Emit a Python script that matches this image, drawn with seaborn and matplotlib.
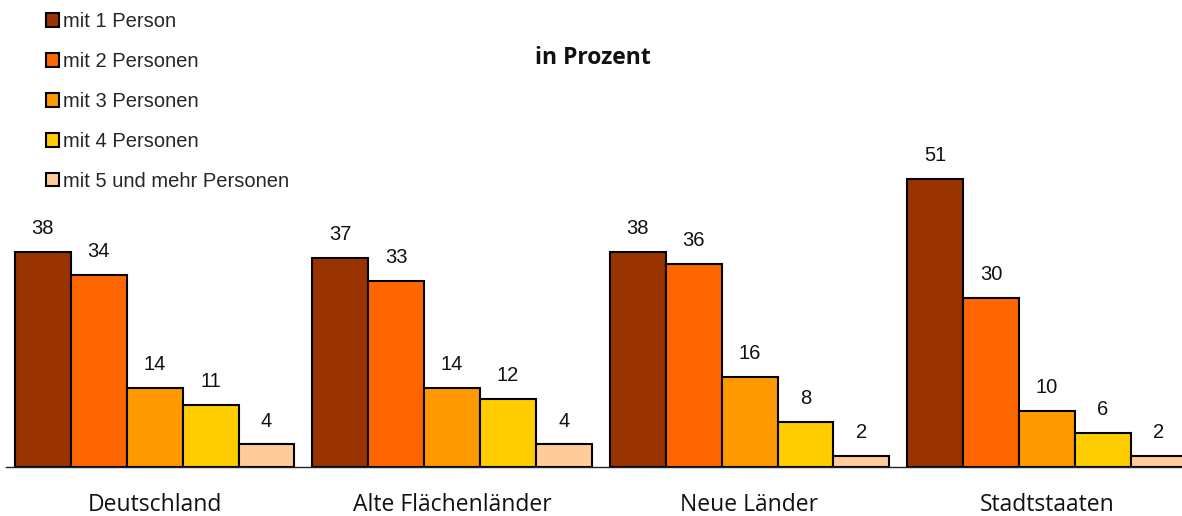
import pandas as pd
import matplotlib.pyplot as plt
import matplotlib.patches as mpatches
import seaborn as sns

# data
regions = ["Deutschland", "Alte Flächenländer", "Neue Länder", "Stadtstaaten"]
household_sizes = ["mit 1 Person", "mit 2 Personen", "mit 3 Personen",
                   "mit 4 Personen", "mit 5 und mehr Personen"]
share_1 = [38, 37, 38, 51]
share_2 = [34, 33, 36, 30]
share_3 = [14, 14, 16, 10]
share_4 = [11, 12, 8, 6]
share_5 = [4, 4, 2, 2]
colors = ["#993300", "#FF6600", "#FF9900", "#FFCC00", "#FFCC99"]

series = [share_1, share_2, share_3, share_4, share_5]
rows = []
for size, values in zip(household_sizes, series):
    for region, v in zip(regions, values):
        rows.append({"Region": region, "Haushalt": size, "Anteil": v})
df = pd.DataFrame(rows)

sns.set_theme(style="white")
plt.rcParams["font.family"] = ["Liberation Sans", "DejaVu Sans"]

fig = plt.figure(figsize=(11.82, 5.16), dpi=100)
ax = fig.add_axes([6 / 1182, 49 / 516, 1176 / 1182, 339 / 516])

sns.barplot(data=df, x="Region", y="Anteil", hue="Haushalt", hue_order=household_sizes,
            palette=colors, saturation=1, width=0.94, edgecolor="black",
            linewidth=1.5, legend=False, ax=ax)

for container in ax.containers:
    ax.bar_label(container, padding=10, fontsize=14.5, color="#111111")

ax.set_ylim(0, 60)
ax.set_xlim(-0.5, 3.454)
ax.set_xlabel("")
ax.set_ylabel("")
ax.set_yticks([])
for side in ["top", "left", "right"]:
    ax.spines[side].set_visible(False)
ax.spines["bottom"].set_color("#222222")
ax.spines["bottom"].set_linewidth(1.0)
ax.tick_params(axis="x", length=0, pad=19)
for lbl in ax.get_xticklabels():
    lbl.set_family(["Open Sans", "DejaVu Sans"])
    lbl.set_fontsize(16.5)
    lbl.set_color("#111111")

fig.text(0.502, 0.887, "in Prozent", ha="center", va="center", fontsize=16.5,
         fontweight="bold", family=["Open Sans", "DejaVu Sans"], color="#111111")

handles = [mpatches.Patch(facecolor=c, edgecolor="black", linewidth=1.5, label=l)
           for c, l in zip(colors, household_sizes)]
fig.legend(handles=handles, loc="upper left", bbox_to_anchor=(0.027, 1.004),
           frameon=False, fontsize=14.5, handlelength=0.65, handleheight=0.65,
           handletextpad=0.2, labelspacing=1.04, borderaxespad=0.3)

fig.savefig("out.png", dpi=100)
